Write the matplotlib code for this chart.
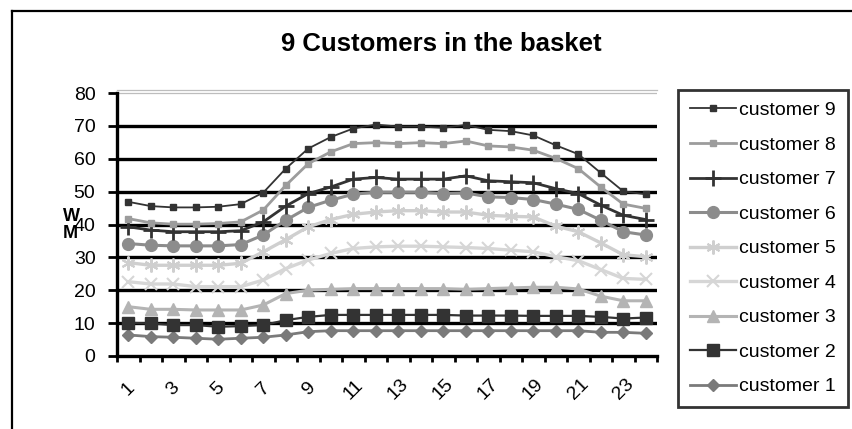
import matplotlib
matplotlib.use("Agg")
import matplotlib.pyplot as plt
from matplotlib.lines import Line2D

plt.rcParams['font.family'] = ['Liberation Sans', 'DejaVu Sans']

# Hourly consumption (1..24) for each customer
hours = list(range(1, 25))
hour_labels = [str(h) for h in range(1, 24, 2)]

customer_1 = [6.4, 5.9, 5.7, 5.4, 5.1, 5.4, 5.7, 6.4, 7.4, 7.7, 7.7, 7.7,
              7.7, 7.7, 7.7, 7.7, 7.7, 7.7, 7.7, 7.7, 7.7, 7.2, 7.2, 6.9]
customer_2 = [10.1, 9.9, 9.4, 9.4, 8.9, 9.1, 9.4, 10.9, 11.9, 12.5, 12.5, 12.5,
              12.5, 12.5, 12.5, 12.3, 12.3, 12.3, 12.2, 12.2, 12.2, 11.9, 11.4, 11.7]
customer_3 = [15.0, 14.2, 14.2, 14.0, 14.0, 14.0, 15.5, 19.0, 20.0, 20.3, 20.5, 20.5,
              20.5, 20.5, 20.5, 20.3, 20.5, 20.7, 20.9, 20.9, 20.4, 18.2, 16.8, 16.8]
customer_4 = [22.6, 21.9, 21.9, 21.1, 21.1, 21.1, 23.1, 26.6, 29.2, 31.2, 32.7, 33.2,
              33.4, 33.4, 33.2, 33.0, 32.7, 32.2, 31.7, 30.2, 29.0, 26.3, 23.6, 23.3]
customer_5 = [28.4, 27.6, 27.6, 27.6, 27.6, 28.2, 31.7, 35.4, 39.3, 41.5, 43.1, 43.8,
              44.2, 44.2, 43.8, 43.8, 42.8, 42.5, 42.3, 39.5, 37.8, 34.4, 30.8, 30.2]
customer_6 = [34.2, 33.7, 33.5, 33.5, 33.5, 33.9, 36.8, 41.3, 45.2, 47.4, 49.2, 49.8,
              49.8, 49.8, 49.4, 49.6, 48.4, 48.2, 47.6, 46.2, 44.6, 41.3, 37.8, 36.8]
customer_7 = [39.3, 38.3, 37.8, 37.8, 37.8, 38.1, 40.8, 45.6, 49.4, 51.4, 53.8, 54.3,
              53.8, 53.8, 53.8, 54.8, 53.3, 53.0, 52.7, 50.9, 49.4, 45.9, 42.8, 41.5]
customer_8 = [41.8, 40.5, 40.1, 40.1, 40.3, 40.8, 44.4, 51.9, 58.5, 62.1, 64.6, 64.9,
              64.6, 64.9, 64.6, 65.4, 63.9, 63.6, 62.6, 60.1, 57.0, 51.4, 46.2, 44.9]
customer_9 = [46.9, 45.6, 45.2, 45.2, 45.4, 46.2, 49.7, 57.0, 63.1, 66.6, 69.2, 70.4,
              69.8, 69.8, 69.4, 70.3, 68.8, 68.4, 67.1, 64.1, 61.4, 55.7, 50.1, 49.2]

series_names = ["customer 1", "customer 2", "customer 3", "customer 4", "customer 5",
                "customer 6", "customer 7", "customer 8", "customer 9"]
series_values = [customer_1, customer_2, customer_3, customer_4, customer_5,
                 customer_6, customer_7, customer_8, customer_9]

# (color, marker, markersize, marker edge width, line width)
styles = [
    ("#7a7a7a", "D", 6.0, 1.0, 2.0),
    ("#333333", "s", 8.5, 1.0, 1.6),
    ("#b4b4b4", "^", 8.5, 1.0, 2.2),
    ("#d6d6d6", "x", 8.0, 1.5, 2.4),
    ("#cfcfcf", (6, 2, 0), 10.0, 1.5, 2.4),
    ("#8c8c8c", "o", 8.5, 1.0, 2.2),
    ("#333333", "+", 11.0, 2.0, 2.0),
    ("#9c9c9c", "s", 4.0, 1.0, 2.0),
    ("#333333", "s", 5.0, 1.0, 1.3),
]

W, H = 852, 429
fig = plt.figure(figsize=(W / 100, H / 100), dpi=100)
fig.patch.set_facecolor("white")

# outer chart frame (left and top edges)
fig.add_artist(Line2D([12 / W, 12 / W], [0, 1 - 11 / H], transform=fig.transFigure,
                      color="black", lw=1.6))
fig.add_artist(Line2D([12 / W, 1], [1 - 11 / H, 1 - 11 / H], transform=fig.transFigure,
                      color="black", lw=1.6))

y_top = 80.9
ax_left, ax_right = 117, 657
ax_bottom_px, y80_px = 356, 93
ax_h = (ax_bottom_px - y80_px) * y_top / 80
ax = fig.add_axes([ax_left / W, 1 - ax_bottom_px / H, (ax_right - ax_left) / W, ax_h / H])

handles = []
for name, vals, (col, mk, ms, mew, lw) in zip(series_names, series_values, styles):
    h, = ax.plot(hours, vals, color=col, marker=mk, markersize=ms, markeredgewidth=mew,
                 markerfacecolor=col, markeredgecolor=col, lw=lw, label=name,
                 solid_joinstyle="round", zorder=3)
    handles.append(h)

ax.set_xlim(0.5, 24.5)
ax.set_ylim(0, y_top)

# horizontal gridlines
for v in range(10, 80, 10):
    ax.axhline(v, color="black", lw=2.4, zorder=1)
ax.axhline(80, color="#bdbdbd", lw=0.9, zorder=1)

ax.spines["right"].set_visible(False)
ax.spines["top"].set_color("#bdbdbd")
ax.spines["top"].set_linewidth(0.9)
ax.spines["left"].set_linewidth(2.4)
ax.spines["left"].set_bounds(0, 80)
ax.spines["bottom"].set_linewidth(2.4)

ax.set_yticks(range(0, 81, 10))
ax.set_yticklabels([str(v) for v in range(0, 81, 10)], fontsize=14)
ax.tick_params(axis="y", direction="out", length=6.5, width=2.0, pad=9)

# category boundary ticks and labels on odd hours
ax.set_xticks([h - 0.5 for h in hours] + [24.5])
ax.set_xticklabels([])
ax.tick_params(axis="x", which="major", direction="out", length=4.5, width=2.0)
ax.set_xticks(list(range(1, 24, 2)), minor=True)
ax.set_xticklabels(hour_labels, minor=True, fontsize=14, rotation=45,
                   ha="center", va="center")
ax.tick_params(axis="x", which="minor", length=0, pad=24)

fig.text(441 / W, 1 - 44 / H, "9 Customers in the basket", fontsize=18.5,
         fontweight="bold", ha="center", va="center")

fig.text(71 / W, 1 - 216 / H, "W", fontsize=13, fontweight="bold", ha="center", va="center")
fig.text(70 / W, 1 - 233 / H, "M", fontsize=13, fontweight="bold", ha="center", va="center")

leg = fig.legend(handles[::-1], series_names[::-1], loc="upper left",
                 bbox_to_anchor=(678 / W, 1 - 90 / H), bbox_transform=fig.transFigure,
                 fontsize=14, frameon=True, fancybox=False, borderpad=0.6,
                 labelspacing=0.87, handlelength=2.4, handletextpad=0.15,
                 borderaxespad=0)
leg.get_frame().set_edgecolor("black")
leg.get_frame().set_linewidth(2.0)

fig.savefig("out.png", dpi=100, facecolor="white")
